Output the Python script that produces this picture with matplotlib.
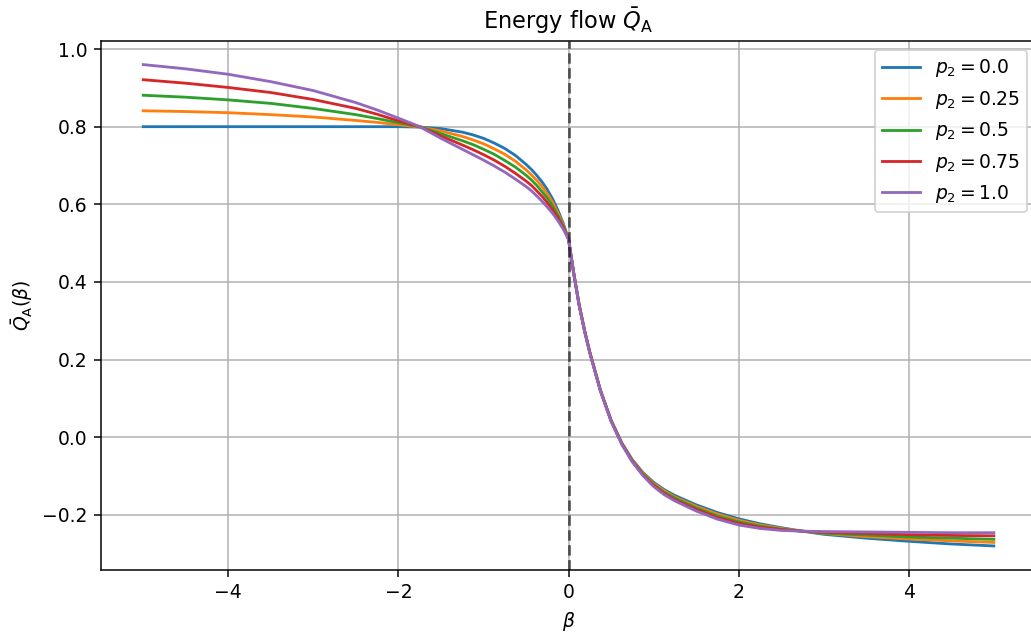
import matplotlib
matplotlib.use("Agg")
import matplotlib.pyplot as plt

beta = [-5, -4.5, -4, -3.5, -3, -2.5, -2.25, -2, -1.75, -1.5, -1.25, -1.125,
        -1, -0.875, -0.75, -0.625, -0.5, -0.4375, -0.375, -0.3125, -0.25,
        -0.1875, -0.125, -0.0625, 0, 0.0625, 0.125, 0.1875, 0.25, 0.375, 0.5,
        0.625, 0.75, 0.875, 1, 1.125, 1.25, 1.5, 1.75, 2, 2.25, 2.5, 2.75, 3,
        3.5, 4, 4.5, 5]

p2_values = [0.0, 0.25, 0.5, 0.75, 1.0]

q_p0 = [0.800, 0.800, 0.800, 0.800, 0.800, 0.800, 0.800, 0.800, 0.799, 0.795,
        0.786, 0.779, 0.770, 0.758, 0.744, 0.726, 0.703, 0.690, 0.675, 0.658,
        0.638, 0.614, 0.585, 0.551, 0.510, 0.421, 0.341, 0.276, 0.219, 0.121,
        0.044, -0.014, -0.058, -0.091, -0.116, -0.135, -0.150, -0.174, -0.194,
        -0.210, -0.223, -0.233, -0.242, -0.250, -0.260, -0.268, -0.275, -0.280]
q_p25 = [0.841, 0.839, 0.836, 0.831, 0.825, 0.816, 0.811, 0.805, 0.799, 0.789,
         0.775, 0.766, 0.756, 0.743, 0.729, 0.711, 0.689, 0.676, 0.662, 0.646,
         0.627, 0.605, 0.578, 0.547, 0.510, 0.421, 0.341, 0.276, 0.219, 0.121,
         0.043, -0.015, -0.060, -0.093, -0.119, -0.138, -0.154, -0.178, -0.198,
         -0.214, -0.226, -0.235, -0.242, -0.248, -0.256, -0.262, -0.267, -0.271]
q_p50 = [0.881, 0.876, 0.869, 0.860, 0.847, 0.831, 0.821, 0.810, 0.800, 0.782,
         0.764, 0.754, 0.742, 0.729, 0.713, 0.696, 0.675, 0.663, 0.649, 0.633,
         0.616, 0.596, 0.571, 0.544, 0.510, 0.420, 0.340, 0.275, 0.218, 0.120,
         0.043, -0.016, -0.061, -0.095, -0.122, -0.142, -0.157, -0.182, -0.203,
         -0.218, -0.229, -0.237, -0.242, -0.247, -0.252, -0.257, -0.260, -0.263]
q_p75 = [0.921, 0.912, 0.901, 0.888, 0.870, 0.847, 0.832, 0.815, 0.800, 0.776,
         0.753, 0.741, 0.728, 0.714, 0.698, 0.680, 0.660, 0.649, 0.635, 0.621,
         0.604, 0.586, 0.565, 0.540, 0.510, 0.420, 0.340, 0.275, 0.218, 0.120,
         0.042, -0.017, -0.062, -0.097, -0.124, -0.145, -0.161, -0.186, -0.207,
         -0.222, -0.232, -0.238, -0.242, -0.245, -0.248, -0.251, -0.253, -0.254]
q_p100 = [0.960, 0.949, 0.935, 0.916, 0.893, 0.862, 0.843, 0.822, 0.800, 0.770,
          0.742, 0.728, 0.714, 0.699, 0.683, 0.665, 0.646, 0.635, 0.622, 0.608,
          0.593, 0.577, 0.558, 0.536, 0.510, 0.419, 0.339, 0.274, 0.217, 0.119,
          0.041, -0.018, -0.064, -0.099, -0.127, -0.148, -0.164, -0.190, -0.211,
          -0.226, -0.235, -0.240, -0.242, -0.243, -0.244, -0.245, -0.246, -0.246]

curves = [q_p0, q_p25, q_p50, q_p75, q_p100]

dpi = 135
fig = plt.figure(figsize=(1031 / dpi, 632 / dpi), dpi=dpi)
ax = fig.add_axes([0.0977, 0.0981, 0.9075, 0.8378])

for p2, q in zip(p2_values, curves):
    ax.plot(beta, q, label=f"$p_2 = {p2}$")

ax.axvline(0, color="k", linestyle="--", alpha=0.6, linewidth=1.5)
ax.set_xlim(-5.5, 5.5)
ax.set_xlabel(r"$\beta$")
ax.set_ylabel(r"$\bar{Q}_\mathrm{A}(\beta)$")
ax.set_title(r"Energy flow $\bar{Q}_\mathrm{A}$")
ax.grid(True)
ax.legend(loc="upper right")

fig.savefig("out.png", dpi=dpi)
